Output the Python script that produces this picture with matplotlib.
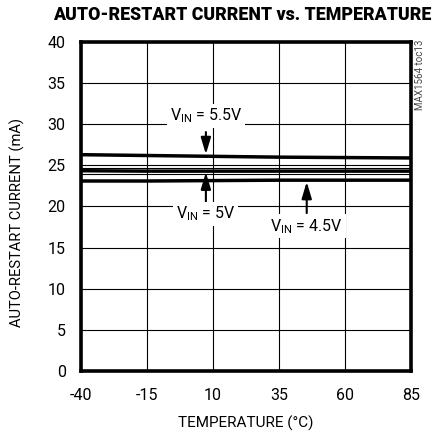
import matplotlib
matplotlib.use("Agg")
import matplotlib.pyplot as plt

plt.rcParams['font.family'] = ['Roboto', 'DejaVu Sans']
plt.rcParams['mathtext.fontset'] = 'custom'
plt.rcParams['mathtext.rm'] = 'Roboto'

temps = [-40, -15, 10, 35, 60, 85]
i_55 = [26.3, 26.2, 26.1, 26.0, 25.95, 25.9]
i_50 = [24.35, 24.3, 24.3, 24.3, 24.3, 24.3]
i_45 = [23.1, 23.1, 23.15, 23.2, 23.2, 23.2]
thin_a = [24.65, 24.65, 24.65, 24.65, 24.65, 24.65]
thin_b = [24.0, 24.0, 24.0, 24.0, 24.0, 24.0]

xticks = [-40, -15, 10, 35, 60, 85]
yticks = [0, 5, 10, 15, 20, 25, 30, 35, 40]

fig = plt.figure(figsize=(4.37, 4.34), dpi=100)
ax = fig.add_axes([0.1854, 0.1452, 0.7551, 0.758])
ax.set_xlim(-40, 85)
ax.set_ylim(0, 40)
ax.set_xticks(xticks)
ax.set_yticks(yticks)
ax.set_xticklabels([str(t) for t in xticks], fontsize=11.5)
ax.set_yticklabels([str(t) for t in yticks], fontsize=11.5)
ax.tick_params(axis='x', length=0, pad=12)
ax.tick_params(axis='y', length=0, pad=11)
ax.grid(True, color='black', linewidth=0.8)
ax.set_axisbelow(True)
for s in ax.spines.values():
    s.set_linewidth(2.6)

ax.plot(temps, thin_a, color='black', linewidth=0.8)
ax.plot(temps, thin_b, color='black', linewidth=0.8)
for ys in (i_55, i_50, i_45):
    ax.plot(temps, ys, color='black', linewidth=2.5, solid_capstyle='butt')

ax.set_xlabel('TEMPERATURE (°C)', fontsize=11)
ax.xaxis.set_label_coords(0.5, -0.135)
ax.set_ylabel('AUTO-RESTART CURRENT (mA)', fontsize=10.6)
ax.yaxis.set_label_coords(-0.17, 0.45)
fig.text(0.554, 0.965, 'AUTO-RESTART CURRENT vs. TEMPERATURE', ha='center', va='center',
         fontsize=12.8, fontweight='heavy')

bbox = dict(facecolor='white', edgecolor='none', pad=2)
arrowprops = dict(arrowstyle='-|>,head_length=1.0,head_width=0.3', color='black', lw=1.5,
                  shrinkA=0, shrinkB=0)
ax.annotate('', xy=(7.3, 26.35), xytext=(7.3, 29.05), arrowprops=arrowprops)
ax.text(7.3, 31.0, r'V$_{\mathrm{IN}}$ = 5.5V', ha='center', va='center', fontsize=11.5, bbox=bbox)
ax.annotate('', xy=(7.3, 24.15), xytext=(7.3, 20.6), arrowprops=arrowprops)
ax.text(7.3, 19.1, r'V$_{\mathrm{IN}}$ = 5V', ha='center', va='center', fontsize=11.5, bbox=bbox)
ax.annotate('', xy=(45.5, 23.0), xytext=(45.5, 19.2), arrowprops=arrowprops)
ax.text(45.5, 17.6, r'V$_{\mathrm{IN}}$ = 4.5V', ha='center', va='center', fontsize=11.5, bbox=bbox)

fig.text(0.962, 0.827, 'MAX1564 toc13', rotation=90, ha='center', va='center', fontsize=7, color='#444444')

fig.savefig('out.png', dpi=100)
